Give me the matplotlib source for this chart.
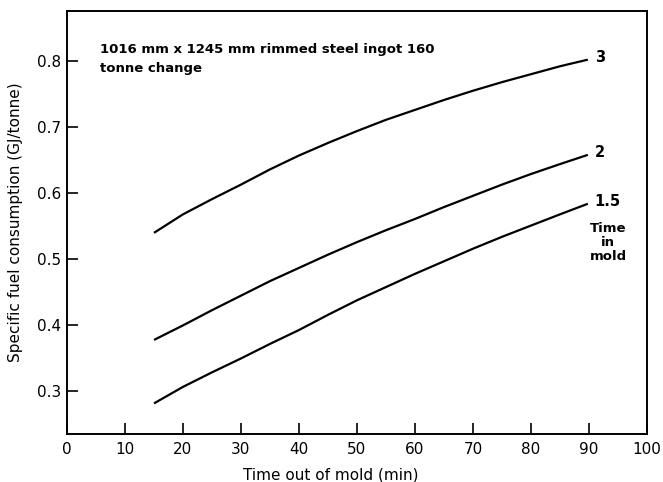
import matplotlib
matplotlib.use("Agg")
import matplotlib.pyplot as plt

plt.rcParams['font.family'] = ['DejaVu Sans']

time_out = [15, 20, 25, 30, 35, 40, 45, 50, 55, 60, 65, 70, 75, 80, 85, 89.8]
series_3 = [0.540, 0.568, 0.591, 0.613, 0.636, 0.657, 0.676, 0.694, 0.711, 0.726,
            0.741, 0.755, 0.768, 0.780, 0.792, 0.802]
series_2 = [0.378, 0.400, 0.423, 0.445, 0.467, 0.487, 0.507, 0.526, 0.544, 0.561,
            0.579, 0.596, 0.613, 0.629, 0.644, 0.658]
series_15 = [0.282, 0.307, 0.329, 0.350, 0.372, 0.393, 0.416, 0.438, 0.458, 0.478,
             0.497, 0.516, 0.534, 0.551, 0.568, 0.584]
series_labels = ["3", "2", "1.5"]
xticks = [0, 10, 20, 30, 40, 50, 60, 70, 80, 90, 100]
yticks = [0.3, 0.4, 0.5, 0.6, 0.7, 0.8]

fig = plt.figure(figsize=(6.63, 4.82), dpi=100)
ax = fig.add_axes([67/663, 1 - 434/482, (647-67)/663, (434-11)/482])

for ys, lab in zip([series_3, series_2, series_15], series_labels):
    ax.plot(time_out, ys, color='black', lw=1.6, solid_capstyle='butt')
    ax.text(91.0, ys[-1] + 0.003, lab, fontsize=10.5, fontweight='bold', ha='left', va='center')

ax.text(93.3, 0.526, "Time\nin\nmold", fontsize=9.5, fontweight='bold', ha='center', va='center',
        linespacing=1.1)

ax.text(5.7, 0.803, "1016 mm x 1245 mm rimmed steel ingot 160\ntonne change", fontsize=9.5,
        fontweight='bold', ha='left', va='center', linespacing=1.65)

ax.set_xlim(0, 100)
ax.set_ylim(0.2357, 0.8756)
ax.set_xticks(xticks)
ax.set_yticks(yticks)
ax.set_yticklabels([f"{v:.1f}" for v in yticks])
ax.tick_params(axis='both', direction='in', length=8, width=1.2, labelsize=11)
ax.tick_params(axis='x', pad=6)
ax.tick_params(axis='y', pad=4)
for s in ax.spines.values():
    s.set_linewidth(1.4)

ax.set_xlabel("Time out of mold (min)", fontsize=11, va='center')
ax.xaxis.set_label_coords(0.455, -41/423)
ax.set_ylabel("Specific fuel consumption (GJ/tonne)", fontsize=11, labelpad=10)

fig.savefig("out.png", dpi=100)
